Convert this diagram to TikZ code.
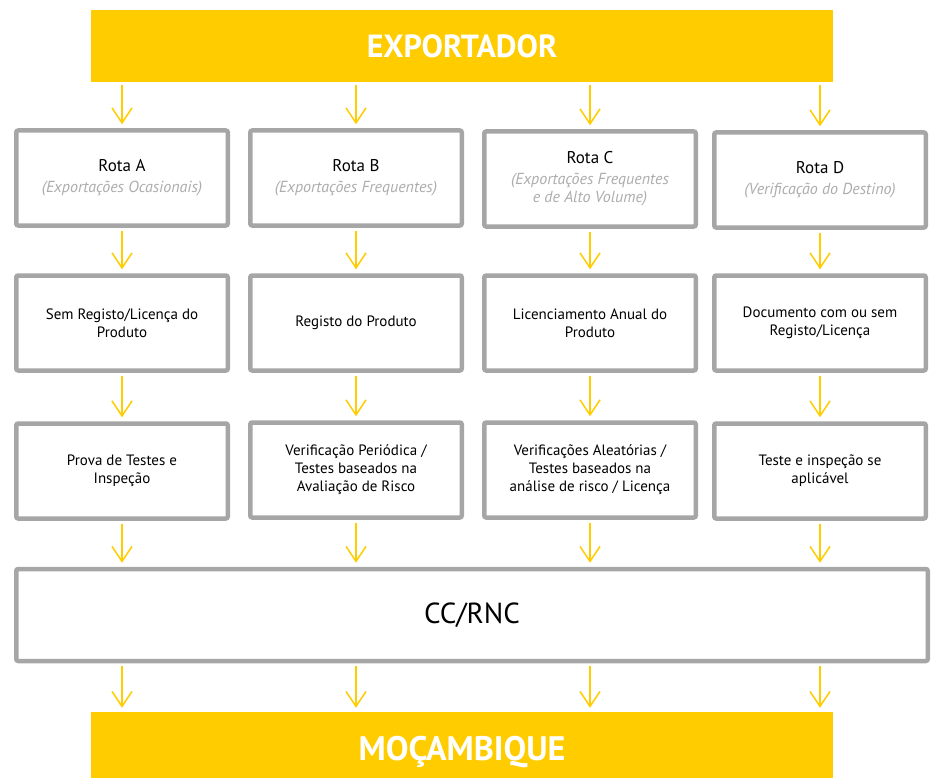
\documentclass[tikz,border=0pt]{standalone}
\usepackage{fontspec}
\setmainfont{PT Sans}
\usetikzlibrary{arrows.meta}
\definecolor{amarelo}{HTML}{FFCC00}
\definecolor{cinza}{HTML}{A6A6A6}
\definecolor{cinzatexto}{HTML}{ADADAD}
\newcommand{\titrota}[1]{{\fontsize{17}{20}\selectfont #1}}
\newcommand{\subrota}[1]{{\color{cinzatexto}\itshape\fontsize{16}{18}\selectfont #1}}

\begin{document}
\begin{tikzpicture}[x=1pt,y=-1pt,
	barra/.style={fill=amarelo,text=white,font=\fontsize{32}{36}\selectfont\bfseries,minimum width=742pt,inner sep=0pt},
	caixa/.style={draw=cinza,line width=4.5pt,rounded corners=2pt,fill=white,minimum width=211.5pt,minimum height=95pt,align=center,font=\fontsize{15}{18}\selectfont,inner sep=2pt},
	seta/.style={draw=amarelo,line width=1.5pt,-{Straight Barb[length=15pt,width=20pt,line width=1.5pt]},shorten <=3pt,shorten >=4pt}]
	\useasboundingbox (0,0) rectangle (936,778);
	\node[barra,minimum height=72pt] (exp) at (462,46) {EXPORTADOR};
	\node[barra,minimum height=66pt,font=\fontsize{34}{36}\selectfont\bfseries] (moz) at (462,745) {\raisebox{-15pt}[0pt][0pt]{MOÇAMBIQUE}};
	% rotas
	\node[caixa] (a1) at (122,178) {\titrota{Rota A}\\[3pt]\subrota{(Exportações Ocasionais)}};
	\node[caixa] (b1) at (356,178) {\titrota{Rota B}\\[3pt]\subrota{(Exportações Frequentes)}};
	\node[caixa] (c1) at (590,179) {\titrota{Rota C}\\[3pt]\subrota{(Exportações Frequentes}\\\subrota{e de Alto Volume)}};
	\node[caixa] (d1) at (820,180) {\titrota{Rota D}\\[3pt]\subrota{(Verificação do Destino)}};
	% registo
	\node[caixa] (a2) at (122,323) {Sem Registo/Licença do\\Produto};
	\node[caixa] (b2) at (356,323) {Registo do Produto};
	\node[caixa] (c2) at (590,323) {Licenciamento Anual do\\Produto};
	\node[caixa] (d2) at (820,323) {Documento com ou sem\\Registo/Licença};
	% testes
	\node[caixa] (a3) at (122,471) {Prova de Testes e\\Inspeção};
	\node[caixa] (b3) at (356,470) {Verificação Periódica /\\Testes baseados na\\Avaliação de Risco};
	\node[caixa] (c3) at (590,470) {Verificações Aleatórias /\\Testes baseados na\\análise de risco / Licença};
	\node[caixa] (d3) at (820,471) {Teste e inspeção se\\aplicável};
	\node[caixa,minimum width=911.5pt,minimum height=92pt,font=\fontsize{29}{32}\selectfont] (cc) at (472,615) {CC/RNC};
	\foreach \c in {a,b,c,d} {
		\draw[seta] (exp.south -| \c1) -- (\c1.north);
		\draw[seta] (\c1.south) -- (\c2.north);
		\draw[seta] (\c2.south) -- (\c3.north);
		\draw[seta] (\c3.south) -- (cc.north -| \c3);
		\draw[seta] (cc.south -| \c3) -- (moz.north -| \c3);
	}
\end{tikzpicture}
\end{document}
